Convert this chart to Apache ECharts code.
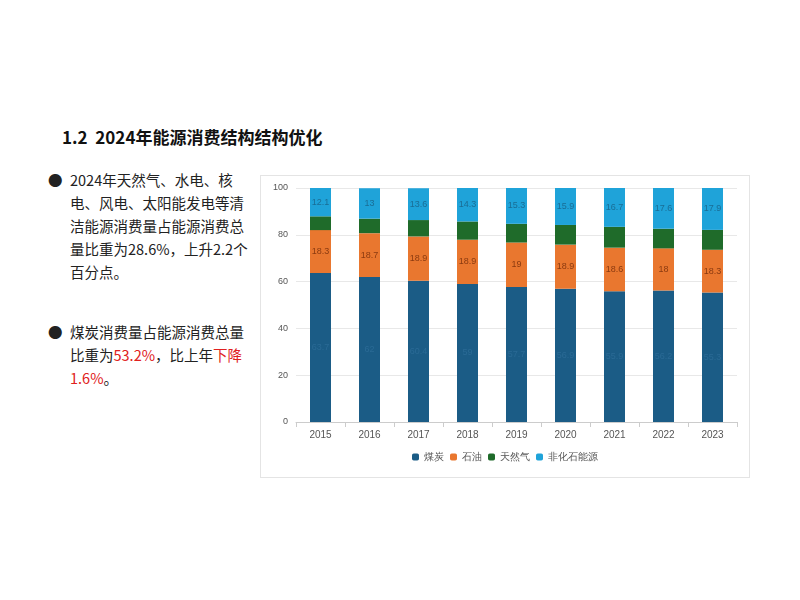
<!DOCTYPE html>
<html><head><meta charset="utf-8">
<script src="https://cdn.jsdelivr.net/npm/echarts@6/dist/echarts.min.js"></script>
<style>
body{margin:0;width:800px;height:600px;background:#fff;font-family:"Noto Sans CJK SC",sans-serif;position:relative;overflow:hidden}
#title{position:absolute;left:62px;top:124px;font-size:17px;font-weight:bold;color:#111}
.txt{position:absolute;left:48px;font-size:14.5px;line-height:23px;color:#222}
.txt .b{position:absolute;left:0;top:0}
.txt .c{position:absolute;left:22px;width:180px}
.red{color:#e02020}
#box{position:absolute;left:260px;top:175px;width:490px;height:303px;border:1px solid #e4e4e4;box-sizing:border-box}
#chart{width:100%;height:100%}
</style></head><body>
<div id="title">1.2&nbsp; 2024年能源消费结构结构优化</div>
<div class="txt" style="top:168px"><span class="b">●</span><div class="c">2024年天然气、水电、核电、风电、太阳能发电等清洁能源消费量占能源消费总量比重为28.6%，上升2.2个百分点。</div></div>
<div class="txt" style="top:320px"><span class="b">●</span><div class="c">煤炭消费量占能源消费总量比重为<span class="red">53.2%</span>，比上年<span class="red">下降1.6%</span>。</div></div>
<div id="box"><div id="chart"></div></div>
<script>
var years = ['2015','2016','2017','2018','2019','2020','2021','2022','2023'];
var coal = [63.7,62.0,60.4,59.0,57.7,56.9,55.9,56.2,55.3];
var oil = [18.3,18.7,18.9,18.9,19.0,18.9,18.6,18.0,18.3];
var gas = [5.9,6.2,7.0,7.8,8.0,8.4,8.9,8.4,8.5];
var nonFossil = [12.1,13.0,13.6,14.3,15.3,15.9,16.7,17.6,17.9];
var yTicks = [0,20,40,60,80,100];

var chart = echarts.init(document.getElementById('chart'));
function s(name, data, color, lblColor, show){
	return {name:name,type:'bar',stack:'a',data:data,barWidth:21,
		itemStyle:{color:color},
		label:{show:show,color:lblColor,fontSize:9,formatter:function(p){return p.value;}}};
}
chart.setOption({
	animation:false,
	grid:{left:35,right:12,top:12,bottom:55},
	legend:{bottom:10,itemWidth:7,itemHeight:7,itemGap:6,textStyle:{fontSize:10,color:'#555'},
		data:['煤炭','石油','天然气','非化石能源']},
	xAxis:{type:'category',data:years,axisLine:{lineStyle:{color:'#ccc'}},axisTick:{show:true,lineStyle:{color:'#ccc'}},
		axisLabel:{color:'#555',fontSize:10}},
	yAxis:{type:'value',min:yTicks[0],max:yTicks[yTicks.length-1],interval:20,
		axisLabel:{color:'#555',fontSize:9},splitLine:{lineStyle:{color:'#e8e8e8'}}},
	series:[
		s('煤炭',coal,'#1b5c86','#2a6a95',true),
		s('石油',oil,'#e9772f','#8a3a10',true),
		s('天然气',gas,'#1f6b2a','#1f6b2a',false),
		s('非化石能源',nonFossil,'#1fa3d9','#1a6d95',true)
	]
});
</script>
</body></html>
